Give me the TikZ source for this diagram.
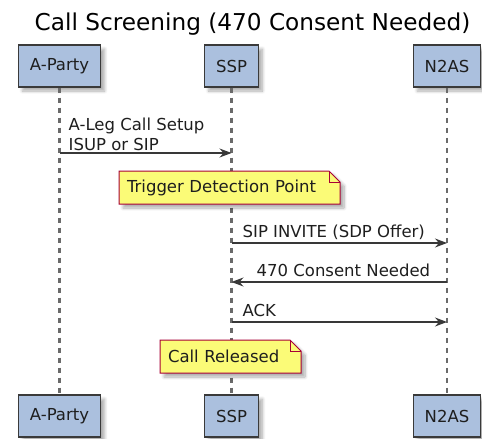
\documentclass[tikz,border=0pt]{standalone}
\usepackage{fontspec}
\setmainfont{DejaVu Sans}
\usetikzlibrary{arrows.meta,calc,shadows.blur}
\definecolor{partfill}{HTML}{ABC0DE}
\definecolor{partdraw}{HTML}{3A3A3A}
\definecolor{notefill}{HTML}{FBFB77}
\definecolor{notedraw}{HTML}{A80036}
\definecolor{lifecol}{HTML}{6A6A6A}
\definecolor{msgcol}{HTML}{383838}
\definecolor{txtcol}{HTML}{1E1E1E}
\tikzset{
  x=1pt, y=-1pt,
  part/.style={draw=partdraw, fill=partfill, line width=1.3pt, minimum height=42pt,
    inner xsep=11.5pt, text=txtcol, font=\fontsize{16.5}{20}\selectfont,
    blur shadow={shadow xshift=4pt, shadow yshift=-4pt, shadow blur steps=8, shadow blur radius=3pt, shadow opacity=32}},
  lifeline/.style={draw=lifecol, line width=2.2pt, dash pattern=on 5pt off 5pt},
  msg/.style={draw=msgcol, line width=1.2pt, -{Stealth[length=12pt,width=9pt,inset=4pt]}},
  lbl/.style={inner sep=0pt, text=txtcol, font=\fontsize{16.5}{20}\selectfont},
  notebox/.style={inner ysep=0pt, inner xsep=8pt, minimum height=33pt, align=left,
    text=txtcol, font=\fontsize{16.5}{20}\selectfont},
  noteshape/.style={draw=notedraw, fill=notefill, line width=1pt, line join=miter,
    blur shadow={shadow xshift=4pt, shadow yshift=-4pt, shadow blur steps=8, shadow blur radius=3pt, shadow opacity=32}},
  notefold/.style={draw=notedraw, line width=1pt},
}
\begin{document}
\begin{tikzpicture}
\useasboundingbox (0,0) rectangle (482,439);
% title
\node[anchor=base, inner sep=0pt, text=black, font=\fontsize{23.2}{28}\selectfont] (title) at (252.5,30) {Call Screening (470 Consent Needed)};
% participants
\node[part] (ap) at (59.5,66) {A-Party};
\node[part] (ssp) at (231.5,66) {SSP};
\node[part] (n2) at (447,66) {N2AS};
\node[part] (ap2) at (59.5,416) {A-Party};
\node[part] (ssp2) at (231.5,416) {SSP};
\node[part] (n22) at (447,416) {N2AS};
% lifelines
\draw[lifeline] (ap.south) -- (ap2.north);
\draw[lifeline] (ssp.south) -- (ssp2.north);
\draw[lifeline] (n2.south) -- (n22.north);
% message end points on lifelines
\coordinate (m1a) at (ap.south |- 0,153);
\coordinate (m1b) at (ssp.south |- 0,153);
\coordinate (m2a) at (ssp.south |- 0,243);
\coordinate (m2b) at (n2.south |- 0,243);
\coordinate (m3a) at (n2.south |- 0,282);
\coordinate (m3b) at (ssp.south |- 0,282);
\coordinate (m4a) at (ssp.south |- 0,322);
\coordinate (m4b) at (n2.south |- 0,322);
% messages
\draw[msg] (m1a) -- (m1b);
\node[lbl, anchor=south west, align=left] (l1) at ($(m1a)+(9,-2)$) {A-Leg Call Setup\\ISUP or SIP};
\draw[msg] (m2a) -- (m2b);
\node[lbl, anchor=base west] (l2) at ($(m2a)+(11,-5.5)$) {SIP INVITE (SDP Offer)};
\draw[msg] (m3a) -- (m3b);
\node[lbl, anchor=base west] (l3) at ($(m3b)+(25,-5.5)$) {470 Consent Needed};
\draw[msg] (m4a) -- (m4b);
\node[lbl, anchor=base west] (l4) at ($(m4a)+(11,-6)$) {ACK};
% notes (outline first, then the text node on top)
\coordinate (n1nw) at (119,171);
\coordinate (n1se) at (340,204);
\path[noteshape] (n1nw) -- ($(n1nw -| n1se)+(-11,0)$) -- ($(n1nw -| n1se)+(0,11)$) -- (n1se) -- (n1nw |- n1se) -- cycle;
\draw[notefold] ($(n1nw -| n1se)+(-11,0)$) -- ($(n1nw -| n1se)+(-11,11)$) -- ($(n1nw -| n1se)+(0,11)$);
\node[notebox, text width=205pt] (n1) at ($(n1nw)!0.5!(n1se)$) {Trigger Detection Point};
\coordinate (n2nw) at (160,340);
\coordinate (n2se) at (301,373);
\path[noteshape] (n2nw) -- ($(n2nw -| n2se)+(-11,0)$) -- ($(n2nw -| n2se)+(0,11)$) -- (n2se) -- (n2nw |- n2se) -- cycle;
\draw[notefold] ($(n2nw -| n2se)+(-11,0)$) -- ($(n2nw -| n2se)+(-11,11)$) -- ($(n2nw -| n2se)+(0,11)$);
\node[notebox, text width=125pt] (nr) at ($(n2nw)!0.5!(n2se)$) {Call Released};
\end{tikzpicture}
\end{document}
